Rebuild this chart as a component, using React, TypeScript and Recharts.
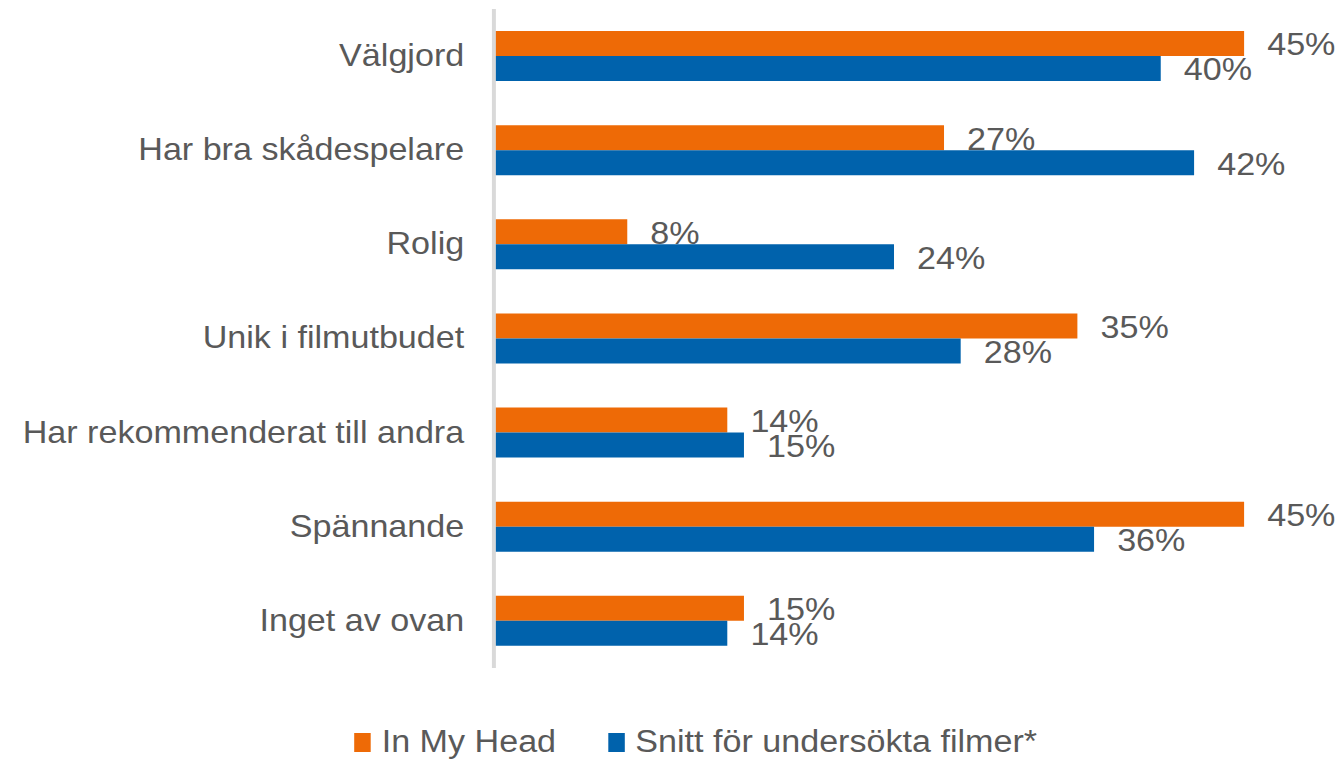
import React from 'react';
import { BarChart, Bar, XAxis, YAxis, LabelList } from 'recharts';

const categories = [
  'Välgjord',
  'Har bra skådespelare',
  'Rolig',
  'Unik i filmutbudet',
  'Har rekommenderat till andra',
  'Spännande',
  'Inget av ovan',
];
const inMyHead = [45, 27, 8, 35, 14, 45, 15];
const snitt = [40, 42, 24, 28, 15, 36, 14];
const seriesNames = ['In My Head', 'Snitt för undersökta filmer*'];
const seriesColors = ['#EE6A06', '#0062AC'];

const data = categories.map((name, i) => ({
  name,
  head: inMyHead[i],
  snitt: snitt[i],
}));

const FONT = '"Liberation Sans", Arial, sans-serif';
const TEXT = '#595959';
const STRETCH = 1.1;

const CategoryTick = ({ x, y, payload }: any) => (
  <text
    x={x - 19}
    y={y + 10}
    textAnchor="end"
    fontFamily={FONT}
    fontSize={31}
    fill={TEXT}
  >
    {payload.value}
  </text>
);

const ValueLabel = ({ x, y, width, height, value }: any) => (
  <text
    x={x + width + 21}
    y={y + height / 2 + 12}
    textAnchor="start"
    fontFamily={FONT}
    fontSize={31}
    fill={TEXT}
  >
    {`${value}%`}
  </text>
);

export default function App() {
  return (
    <div style={{ position: 'absolute', left: 0, top: 0, width: 1342, height: 760, overflow: 'hidden', background: '#fff' }}>
      <div
        style={{
          position: 'relative',
          width: 1220,
          height: 760,
          transform: `scaleX(${STRETCH})`,
          transformOrigin: '0 0',
        }}
      >
        <BarChart
          width={1220}
          height={760}
          data={data}
          layout="vertical"
          margin={{ top: 9, right: 89, bottom: 92, left: 0 }}
          barGap={0}
          barSize={25}
        >
          <XAxis type="number" domain={[0, 45]} hide />
          <YAxis
            type="category"
            dataKey="name"
            width={449}
            axisLine={{ stroke: '#d9d9d9', strokeWidth: 3.6 }}
            tickLine={false}
            tick={<CategoryTick />}
            interval={0}
          />
          <Bar dataKey="head" fill={seriesColors[0]} isAnimationActive={false}>
            <LabelList dataKey="head" content={<ValueLabel />} />
          </Bar>
          <Bar dataKey="snitt" fill={seriesColors[1]} isAnimationActive={false}>
            <LabelList dataKey="snitt" content={<ValueLabel />} />
          </Bar>
        </BarChart>
        <div
          style={{
            position: 'absolute',
            left: 322,
            top: 724,
            display: 'flex',
            alignItems: 'center',
            fontFamily: FONT,
            fontSize: 31,
            color: TEXT,
            whiteSpace: 'nowrap',
          }}
        >
          {seriesNames.map((n, i) => (
            <div key={n} style={{ display: 'flex', alignItems: 'center', marginRight: 47 }}>
              <span style={{ display: 'inline-block', width: 15, height: 19, background: seriesColors[i], marginRight: 10 }} />
              <span>{n}</span>
            </div>
          ))}
        </div>
      </div>
    </div>
  );
}
